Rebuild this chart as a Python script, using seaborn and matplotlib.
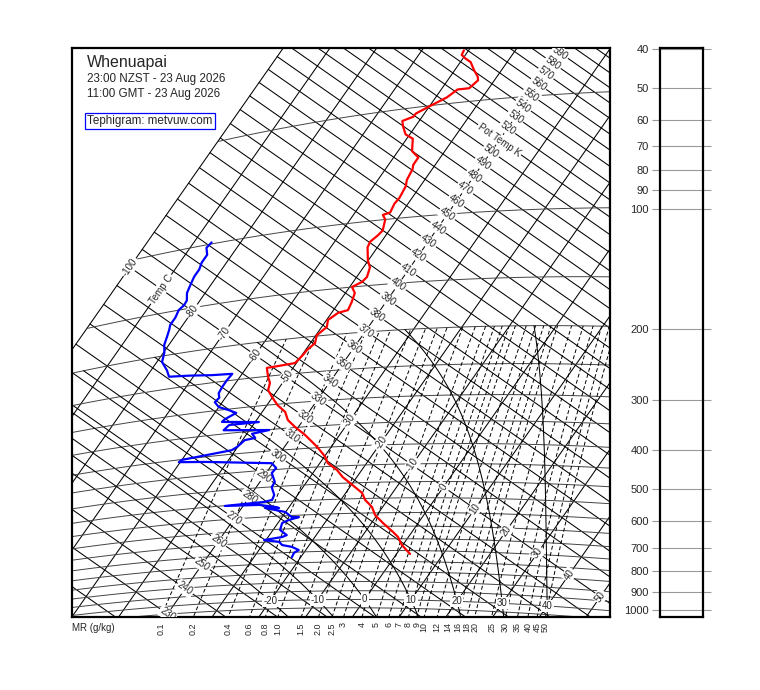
import numpy as np
import pandas as pd
import matplotlib
matplotlib.use("Agg")
import matplotlib.pyplot as plt
import matplotlib.transforms as mtransforms
from matplotlib.ticker import NullLocator, FixedLocator, FixedFormatter
import seaborn as sns

sns.set_theme(style="white")
plt.rcParams["font.family"] = ["Liberation Sans", "DejaVu Sans"]

STATION = "Whenuapai"
LOCAL_TIME = "23:00 NZST - 23 Aug 2026"
GMT_TIME = "11:00 GMT - 23 Aug 2026"
CREDIT = "Tephigram: metvuw.com"

# Chart grid
ISOTHERMS = np.arange(-100, 61, 10)
ISENTROPES = np.arange(200, 621, 10)
ISOBARS = np.arange(50, 1051, 50)
MIXING_RATIOS = [0.1, 0.2, 0.4, 0.6, 0.8, 1.0, 1.5, 2.0, 2.5, 3, 4, 5, 6, 7, 8, 9,
                 10, 12, 14, 16, 18, 20, 25, 30, 35, 40, 45, 50]
MR_LABELS = ["0.1", "0.2", "0.4", "0.6", "0.8", "1.0", "1.5", "2.0", "2.5", "3", "4",
             "5", "6", "7", "8", "9", "10", "12", "14", "16", "18", "20", "25", "30",
             "35", "40", "45", "50"]
MOIST_ADIABATS = [-20, -10, 0, 10, 20, 30, 40]
PRESSURE_TICKS = [40, 50, 60, 70, 80, 90, 100, 200, 300, 400, 500, 600, 700, 800, 900, 1000]

# Dew point profile (hPa, degC), top down
DEW_P = [99, 102, 107, 112, 117, 122, 128, 135, 142, 146, 150, 157, 164, 169, 177, 186,
         196, 208, 221, 231, 234, 238, 240, 249, 259, 269, 277, 284, 294, 302, 309, 319,
         324, 332, 332, 342, 351, 356, 366, 369, 383, 390, 401, 406, 413, 432, 446, 459,
         486, 501, 526, 542, 547, 551, 556, 567, 571, 568, 586, 606, 607, 616, 626, 653,
         675, 682, 691, 702, 716, 726, 741, 753, 772]
DEW_T = [-86.2, -86.5, -85.3, -85.3, -84.8, -84.8, -84.4, -83.9, -82.8, -82.7, -83.1,
         -82.7, -82.7, -82.2, -81.6, -81.0, -79.8, -78.9, -76.6, -75.2, -71.0, -66.3,
         -62.1, -62.3, -62.3, -62.1, -61.3, -61.6, -60.0, -57.4, -55.4, -56.9, -57.1,
         -49.2, -55.1, -55.5, -45.8, -48.9, -47.6, -49.5, -50.1, -50.8, -60.0, -60.3,
         -54.7, -40.3, -38.6, -38.8, -36.8, -36.7, -35.0, -34.7, -36.1, -43.9, -36.7,
         -32.8, -32.0, -35.0, -30.1, -27.9, -26.4, -28.1, -29.1, -28.5, -26.3, -27.0,
         -30.4, -26.9, -25.8, -23.4, -21.5, -22.1, -21.9]

# Temperature profile (hPa, degC), bottom up
TEMP_P = [765, 726, 693, 673, 638, 608, 579, 555, 532, 506, 482, 461, 441, 424, 398, 368,
          349, 333, 316, 302, 286, 273, 261, 251, 237, 236, 234, 223, 217, 209, 199, 190,
          182, 175, 173, 165, 156, 150, 146, 142, 134, 128, 118, 114, 110, 107, 100, 97,
          96, 91, 88, 82, 79, 74, 72, 69, 66, 61, 59, 56, 54, 53, 52, 50, 49, 48, 46, 46,
          44, 43, 41, 39, 38, 37, 36]
TEMP_T = [2.9, -0.2, -2.2, -4.0, -7.5, -10.4, -12.3, -14.8, -16.5, -19.8, -23.0, -25.3,
          -28.3, -29.8, -33.0, -37.4, -40.7, -43.3, -45.1, -47.7, -50.1, -52.0, -52.7,
          -54.0, -55.6, -53.5, -50.3, -49.8, -49.7, -49.0, -49.8, -48.9, -49.7, -48.6,
          -46.9, -47.3, -48.0, -49.5, -48.1, -47.8, -48.6, -50.1, -52.1, -52.4, -51.7,
          -51.4, -52.5, -53.7, -52.5, -52.9, -52.7, -53.1, -53.8, -54.2, -54.7, -54.7,
          -57.0, -58.7, -60.9, -62.6, -63.6, -61.9, -61.8, -59.8, -58.7, -57.6, -56.5,
          -54.2, -53.5, -54.1, -56.0, -57.8, -59.4, -60.8, -61.0]

# Tephigram projection: T and ln(theta) axes, rotated
KAPPA = 0.2857
ROT = np.deg2rad(35)
T_UNIT = 3.83
S_UNIT = 727.0
T_REF, TH_REF = -40.0, 330.0


def theta_of(t, p):
    return (np.asarray(t) + 273.15) * (1000.0 / np.asarray(p)) ** KAPPA


def tephi_xy(t, theta):
    a = (np.asarray(t) - T_REF) * T_UNIT
    b = np.log(np.asarray(theta) / TH_REF) * S_UNIT
    return a * np.cos(ROT) + b * np.sin(ROT), -a * np.sin(ROT) + b * np.cos(ROT)


def tp_xy(t, p):
    return tephi_xy(t, theta_of(t, p))


def sat_vp(t):
    return 6.112 * np.exp(17.67 * t / (t + 243.5))


def dewpoint_from_e(e):
    ln = np.log(e / 6.112)
    return 243.5 * ln / (17.67 - ln)


def moist_dtdp(t, p):
    tk = t + 273.15
    es = sat_vp(t)
    rs = 0.622 * es / (p - es)
    num = 287.04 * tk + 2.501e6 * rs
    den = 1004.0 + 2.501e6 ** 2 * rs * 0.622 / (287.04 * tk ** 2)
    return num / den / p


def moist_adiabat(t0, p_end, step):
    ps = np.arange(1000.0, p_end, step)
    ts = [t0]
    for i in range(1, len(ps)):
        p0, dp = ps[i - 1], ps[i] - ps[i - 1]
        k1 = moist_dtdp(ts[-1], p0)
        k2 = moist_dtdp(ts[-1] + k1 * dp, p0 + dp)
        ts.append(ts[-1] + 0.5 * (k1 + k2) * dp)
    return np.array(ts), ps


fig = plt.figure(figsize=(7.6, 6.9), dpi=100)
ax = fig.add_axes([72 / 760, 73 / 690, 538 / 760, 569 / 690])
ax.set_xlim(-246, 292)
ax.set_ylim(-218, 351)
ax.set_xticks([])
ax.set_yticks([])
for s in ax.spines.values():
    s.set_linewidth(1.6)
    s.set_color("black")

grid_kw = dict(color="black", lw=0.75, zorder=1)

# isotherms
theta_span = np.linspace(150, 800, 50)
for t in ISOTHERMS:
    x, y = tephi_xy(np.full_like(theta_span, t), theta_span)
    ax.plot(x, y, **grid_kw)

# dry adiabats
t_span = np.linspace(-100, 70, 60)
for th in ISENTROPES:
    x, y = tephi_xy(t_span, np.full_like(t_span, th))
    ax.plot(x, y, **grid_kw)

# isobars
for p in ISOBARS:
    x, y = tp_xy(t_span, np.full_like(t_span, p))
    ax.plot(x, y, color="#444444", lw=0.7, zorder=1)

# mixing ratio lines
p_span = np.linspace(1150, 200, 80)
mr_bottom = []
for w in MIXING_RATIOS:
    e = w * p_span / (622.0 + w)
    td = dewpoint_from_e(e)
    x, y = tp_xy(td, p_span)
    ax.plot(x, y, color="black", lw=0.7, ls=(0, (4, 2.5)), zorder=1)
    mr_bottom.append(np.interp(ax.get_ylim()[0], y, x))

# saturated adiabats
for t0 in MOIST_ADIABATS:
    tu, pu = moist_adiabat(float(t0), 199.0, -2.0)
    tl, pl = moist_adiabat(float(t0), 1101.0, 2.0)
    t_all = np.concatenate([tl[::-1], tu[1:]])
    p_all = np.concatenate([pl[::-1], pu[1:]])
    x, y = tp_xy(t_all, p_all)
    ax.plot(x, y, color="black", lw=0.75, zorder=1)

lab_kw = dict(fontsize=7, ha="center", va="center", rotation_mode="anchor", zorder=3,
              bbox=dict(boxstyle="square,pad=0.12", fc="white", ec="none"))
for t in range(-100, 51, 10):
    if t == -40:
        continue
    x, y = tephi_xy(t, TH_REF)
    ax.text(x, y, "Temp C" if t == -90 else str(t), rotation=55, clip_on=True, **lab_kw)
for th in range(230, 591, 10):
    x, y = tephi_xy(T_REF, th)
    ax.text(x, y, "Pot Temp K" if th == 510 else str(th), rotation=-35, clip_on=True, **lab_kw)
for t in range(-20, 41, 10):
    x, y = tp_xy(t, 1000)
    ax.text(x, y, str(t), rotation=0, clip_on=True, **lab_kw)

# soundings
tx, ty = tp_xy(np.array(TEMP_T), np.array(TEMP_P, float))
prof = pd.DataFrame({"x": tx, "y": ty})
sns.lineplot(data=prof, x="x", y="y", sort=False, estimator=None, color="red", lw=1.6,
             ax=ax, zorder=4)
dx_, dy_ = tp_xy(np.array(DEW_T), np.array(DEW_P, float))
dew = pd.DataFrame({"x": dx_, "y": dy_})
sns.lineplot(data=dew, x="x", y="y", sort=False, estimator=None, color="blue", lw=1.6,
             ax=ax, zorder=4)
ax.set_xlabel("")
ax.set_ylabel("")

blend = mtransforms.blended_transform_factory(ax.transData, ax.transAxes)
for xb, lab in zip(mr_bottom, MR_LABELS):
    ax.text(xb, -0.009, lab, transform=blend, rotation=90, fontsize=6.4, ha="center",
            va="top", clip_on=False)
fig.text(72 / 760, 1 - 628 / 690, "MR (g/kg)", fontsize=7, ha="left", va="center")

fig.text(87 / 760, 1 - 62 / 690, STATION, fontsize=11.5, ha="left", va="center")
fig.text(87 / 760, 1 - 79 / 690, LOCAL_TIME, fontsize=8.4, ha="left", va="center")
fig.text(87 / 760, 1 - 94 / 690, GMT_TIME, fontsize=8.4, ha="left", va="center")
fig.text(87 / 760, 1 - 121 / 690, CREDIT, fontsize=8.4, ha="left", va="center",
         bbox=dict(boxstyle="square,pad=0.2", fc="white", ec="blue", lw=0.9))

# wind panel with pressure scale
ax2 = fig.add_axes([660 / 760, 73 / 690, 43 / 760, 569 / 690])
ax2.set_yscale("log")
ax2.set_ylim(1041, 39.8)
ax2.set_xticks([])
ax2.yaxis.set_major_locator(FixedLocator(PRESSURE_TICKS))
ax2.yaxis.set_major_formatter(FixedFormatter([str(p) for p in PRESSURE_TICKS]))
ax2.yaxis.set_minor_locator(NullLocator())
ax2.tick_params(axis="y", which="major", left=True, right=True, direction="out", length=6,
                width=0.8, color="#999999", labelsize=8, pad=2)
for p in PRESSURE_TICKS:
    ax2.axhline(p, color="#999999", lw=0.8)
for s in ax2.spines.values():
    s.set_linewidth(1.6)
    s.set_color("black")

fig.savefig("out.png", dpi=100)
